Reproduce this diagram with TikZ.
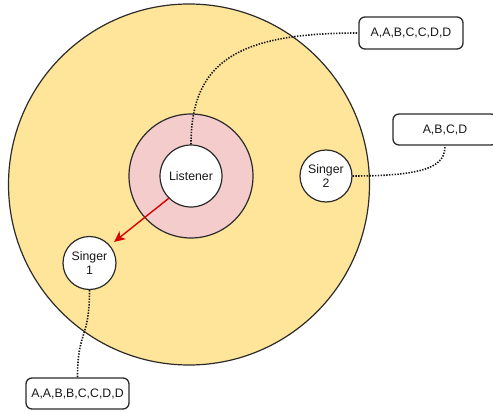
\documentclass[tikz,border=0pt]{standalone}
\usepackage{fontspec}
\setmainfont{Liberation Sans}
\usetikzlibrary{arrows.meta}
\definecolor{zoneyellow}{HTML}{FFE599}
\definecolor{ringpink}{HTML}{F4CCCC}
\definecolor{strokegrey}{HTML}{2B2B2B}
\definecolor{arrowred}{HTML}{D90000}
\begin{document}
\begin{tikzpicture}[x=1pt,y=-1pt,
  every node/.style={font=\fontsize{12.3}{14}\selectfont, text=black!90},
  disc/.style={circle, draw=strokegrey, line width=1.2pt, inner sep=0pt, align=center},
  tag/.style={rectangle, rounded corners=6pt, draw=strokegrey, line width=1.3pt, fill=white,
              minimum width=103pt, minimum height=31pt, inner sep=0pt},
  link/.style={draw=black!90, line width=1.6pt, dash pattern=on 1.4pt off 1.4pt},
  pointer/.style={draw=arrowred, line width=1.4pt, -{Stealth[length=11pt,width=10pt,inset=3pt]}}
]
\useasboundingbox (0,0) rectangle (493,412);
\node[disc, fill=zoneyellow, minimum size=361pt] (zone) at (189,184.5) {};
\node[disc, fill=ringpink, minimum size=124pt] (ring) at (191,176) {};
\node[disc, fill=white, minimum size=62pt] (listener) at (191,176) {Listener};
\node[disc, fill=white, minimum size=52pt] (s2) at (326,176) {Singer\\2};
\node[disc, fill=white, minimum size=53pt] (s1) at (89.5,263) {Singer\\1};
\node[tag, minimum width=104pt, minimum height=32pt] (b1) at (411,33) {A,A,B,C,C,D,D};
\node[tag, minimum width=104pt] (b2) at (445,129.5) {A,B,C,D};
\node[tag] (b3) at (77.5,393.5) {A,A,B,B,C,C,D,D};
\coordinate (tip) at (114,242);
\path[link] (listener.north) .. controls (191,60) and (240,33) .. (b1.west);
\path[link] (s2.east) .. controls (430,176) and (445,165) .. (b2.south);
\path[link] (s1.south) .. controls (89.5,340) and (77.5,330) .. (b3.north);
\path[pointer] (listener.225) -- (tip);
\end{tikzpicture}
\end{document}
